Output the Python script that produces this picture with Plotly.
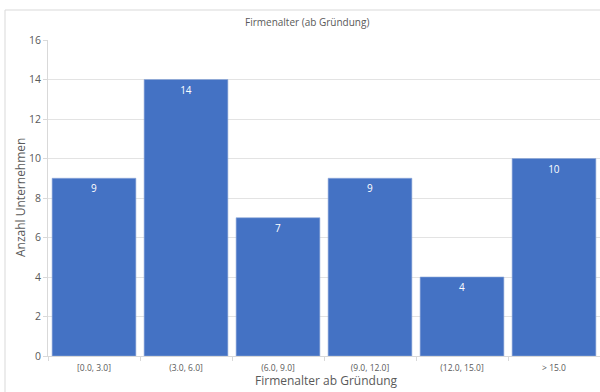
import plotly.graph_objects as go

categories = ["[0.0, 3.0]", "(3.0, 6.0]", "(6.0, 9.0]", "(9.0, 12.0]", "(12.0, 15.0]", "> 15.0"]
counts = [9, 14, 7, 9, 4, 10]
y_ticks = [0, 2, 4, 6, 8, 10, 12, 14, 16]

W, H = 600, 392
L, R, T, B = 48, 0, 40, 36
pw, ph = W - L - R, H - T - B

def px(x):
    return (x - L) / pw

def py(y):
    return (H - B - y) / ph

font = "Open Sans, Liberation Sans, sans-serif"
grey = "#595959"

fig = go.Figure(go.Bar(
    x=categories, y=counts,
    marker=dict(color="#4472C4", line=dict(width=0.6, color="#8fa8d8")),
    width=0.91,
    text=[str(c) for c in counts],
    textposition="inside", insidetextanchor="end",
    textfont=dict(color="white", size=10, family=font),
    cliponaxis=False,
))

fig.update_layout(
    width=W, height=H,
    margin=dict(l=L, r=R, t=T, b=B),
    paper_bgcolor="white", plot_bgcolor="white",
    showlegend=False,
    bargap=0.09,
    xaxis=dict(
        type="category", showgrid=False, zeroline=False,
        showline=True, linecolor="#d9d9d9", linewidth=1,
        ticks="outside", tickson="boundaries", ticklen=4, tickcolor="#d9d9d9",
        ticklabelstandoff=4,
        tickfont=dict(size=8.5, color=grey, family=font),
        range=[-0.5, 5.5],
    ),
    yaxis=dict(
        range=[0, 16], tickvals=y_ticks,
        showgrid=True, gridcolor="#e3e3e3", gridwidth=1, zeroline=False,
        showline=True, linecolor="#d9d9d9", linewidth=1,
        ticks="outside", ticklen=4, tickcolor="#d9d9d9",
        tickfont=dict(size=10.5, color=grey, family=font),
    ),
    shapes=[dict(
        type="rect", xref="paper", yref="paper",
        x0=px(5), x1=px(640), y0=py(420), y1=py(10),
        line=dict(color="#d9d9d9", width=1), fillcolor="rgba(0,0,0,0)", layer="below",
    )],
    annotations=[
        dict(text="Firmenalter (ab Gründung)", xref="paper", yref="paper",
             x=px(307), y=py(22), showarrow=False, xanchor="center", yanchor="middle",
             font=dict(size=10, color=grey, family=font)),
        dict(text="Firmenalter ab Gründung", xref="paper", yref="paper",
             x=px(326), y=py(391), showarrow=False, xanchor="center", yanchor="bottom",
             font=dict(size=12, color=grey, family=font)),
        dict(text="Anzahl Unternehmen", xref="paper", yref="paper",
             x=px(20), y=py(198), showarrow=False, xanchor="center", yanchor="middle",
             textangle=-90, font=dict(size=12, color=grey, family=font)),
    ],
)

fig.write_html("out.html")
